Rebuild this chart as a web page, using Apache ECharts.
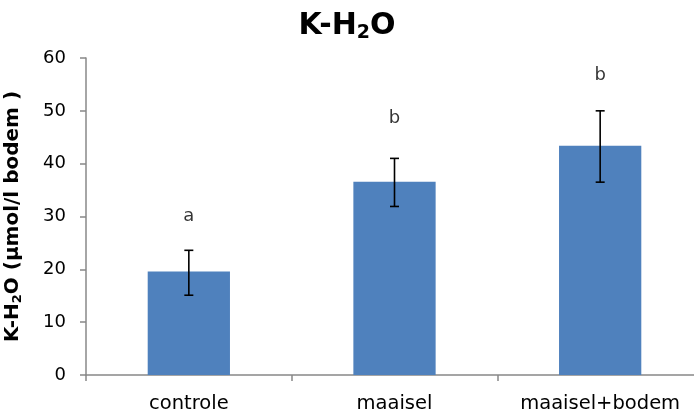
<!DOCTYPE html>
<html><head><meta charset="utf-8">
<script src="https://cdn.jsdelivr.net/npm/echarts@6/dist/echarts.min.js"></script>
<style>html,body{margin:0;padding:0;background:#fff}#c{width:694px;height:414px}</style>
</head><body><div id="c"></div>
<script>
const categories = ['controle', 'maaisel', 'maaisel+bodem'];
const values = [19.6, 36.6, 43.4];
const errLow = [15.1, 31.9, 36.5];
const errHigh = [23.6, 41.0, 50.0];
const letters = ['a', 'b', 'b'];
const letterY = [30.0, 48.5, 56.8];
const yTicks = [0, 10, 20, 30, 40, 50, 60];

const font = 'DejaVu Sans';
const chart = echarts.init(document.getElementById('c'), null, {renderer: 'canvas'});
chart.setOption({
  animation: false,
  backgroundColor: '#fff',
  textStyle: {fontFamily: font},
  title: {
    text: '{m|K-H}{s|2}{m|O}',
    left: 'center', top: 4,
    textStyle: {
      fontFamily: font,
      rich: {
        m: {fontFamily: font, fontWeight: 'bold', fontSize: 30, lineHeight: 34, color: '#000'},
        s: {fontFamily: font, fontWeight: 'bold', fontSize: 19, lineHeight: 18, verticalAlign: 'bottom', color: '#000'}
      }
    }
  },
  grid: {left: 86, right: -9, top: 58, bottom: 39, containLabel: false, outerBoundsMode: 'none'},
  xAxis: {
    type: 'category', data: categories,
    axisLine: {lineStyle: {color: '#888', width: 1.5}},
    axisTick: {show: true, interval: 0, length: 6, lineStyle: {color: '#888', width: 1.5}},
    axisLabel: {interval: 0, hideOverlap: false, fontFamily: font, fontSize: 19.5, color: '#000', margin: 19}
  },
  yAxis: {
    type: 'value', min: yTicks[0], max: yTicks[yTicks.length - 1], interval: 10,
    name: '{m|K-H}{s|2}{m|O (µmol/l bodem )}',
    nameLocation: 'middle', nameGap: 62, nameRotate: 90,
    nameTextStyle: {
      fontFamily: font,
      rich: {
        m: {fontFamily: font, fontWeight: 'bold', fontSize: 20, lineHeight: 22, color: '#000'},
        s: {fontFamily: font, fontWeight: 'bold', fontSize: 13, lineHeight: 12, verticalAlign: 'bottom', color: '#000'}
      }
    },
    axisLine: {show: true, lineStyle: {color: '#888', width: 1.5}},
    axisTick: {show: true, length: 6, lineStyle: {color: '#888', width: 1.5}},
    axisLabel: {fontFamily: font, fontSize: 18, color: '#000', margin: 20},
    splitLine: {show: false}
  },
  series: [
    {
      type: 'bar', data: values, barWidth: '40%',
      itemStyle: {color: '#4F81BD'}
    },
    {
      type: 'custom',
      data: categories.map((c, i) => [i, errLow[i], errHigh[i]]),
      renderItem: function (params, api) {
        const x = api.value(0);
        const lo = api.coord([x, api.value(1)]);
        const hi = api.coord([x, api.value(2)]);
        const hw = 4.5;
        const st = {stroke: '#000', lineWidth: 1.6};
        return {type: 'group', children: [
          {type: 'line', shape: {x1: lo[0], y1: lo[1], x2: hi[0], y2: hi[1]}, style: st},
          {type: 'line', shape: {x1: lo[0] - hw, y1: lo[1], x2: lo[0] + hw, y2: lo[1]}, style: st},
          {type: 'line', shape: {x1: hi[0] - hw, y1: hi[1], x2: hi[0] + hw, y2: hi[1]}, style: st}
        ]};
      },
      z: 5
    },
    {
      type: 'scatter',
      data: letterY.map((v, i) => [i, v]),
      symbolSize: 0,
      label: {
        show: true, position: 'inside',
        formatter: p => letters[p.dataIndex],
        fontFamily: font, fontSize: 18, color: '#000'
      },
      z: 6
    }
  ]
});
</script></body></html>
